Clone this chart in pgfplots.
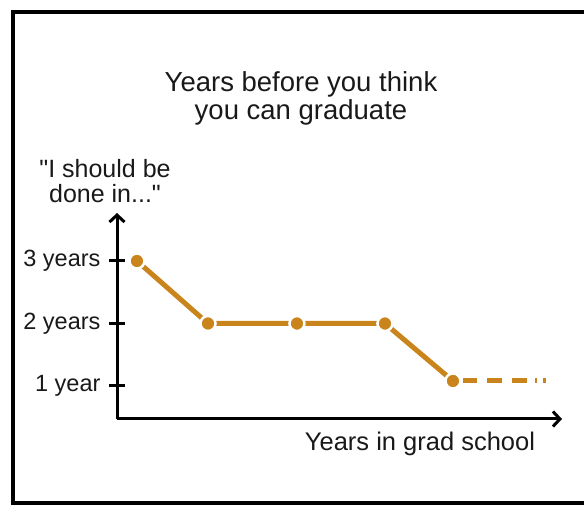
\documentclass[border=0pt]{standalone}
\usepackage{pgfplots}
\pgfplotsset{compat=1.18}
\usepackage{fontspec}
\setmainfont{Liberation Sans}
\newfontfamily\plainsans{Liberation Sans}
\usetikzlibrary{arrows.meta}
\definecolor{phdorange}{RGB}{201,133,27}
\definecolor{ink}{RGB}{25,25,25}
\begin{document}
\begin{tikzpicture}[x=1pt,y=1pt]
\path[use as bounding box] (0,0) rectangle (584,506);
\begin{scope}
\clip (0,0) rectangle (584,506);
\draw[line width=4pt] (600,494) -- (13,494) -- (13,3) -- (600,3);
\end{scope}
\begin{axis}[
  at={(117pt,87pt)}, anchor=south west,
  scale only axis, width=445pt, height=206pt,
  xmin=0, xmax=5.057, ymin=0.472, ymax=3.768,
  axis lines=left,
  axis line style={line width=3pt, -{Straight Barb[length=7pt,width=15pt,line width=3pt]}},
  xtick=\empty, ytick={1,2,3}, yticklabels={1 year,2 years,3 years},
  tick align=center, major tick length=16pt,
  tick style={line width=3pt, black},
  yticklabel style={font=\fontsize{23.5}{28}\selectfont, text=ink, xshift=-5pt},
  clip=false,
]
\addplot[phdorange, line width=5pt, dash pattern=on 0pt off 10pt on 14pt off 10pt on 15pt off 10pt on 15pt off 8pt on 2pt off 6pt on 3pt off 100pt, forget plot]
  coordinates {(3.818,1.08) (4.875,1.08)};
\addplot[phdorange, line width=5pt, mark=*, mark size=7.5pt,
  mark options={fill=phdorange, draw=white, line width=2.5pt, solid}]
  coordinates {(0.227,3) (1.034,2) (2.045,2) (3.045,2) (3.818,1.08)};
\end{axis}
\node[anchor=base, text=ink, font=\fontsize{27.5}{30}\selectfont] at (301,414) {Years before you think};
\node[anchor=base, text=ink, font=\fontsize{27.5}{30}\selectfont] at (301,386) {you can graduate};
\node[anchor=base, text=ink, font=\plainsans\fontsize{25}{28}\selectfont] at (105,328) {"I should be};
\node[anchor=base, text=ink, font=\plainsans\fontsize{25}{28}\selectfont] at (105,303) {done in..."};
\node[anchor=base, text=ink, font=\fontsize{25.5}{28}\selectfont] at (420,55) {Years in grad school};
\end{tikzpicture}
\end{document}
